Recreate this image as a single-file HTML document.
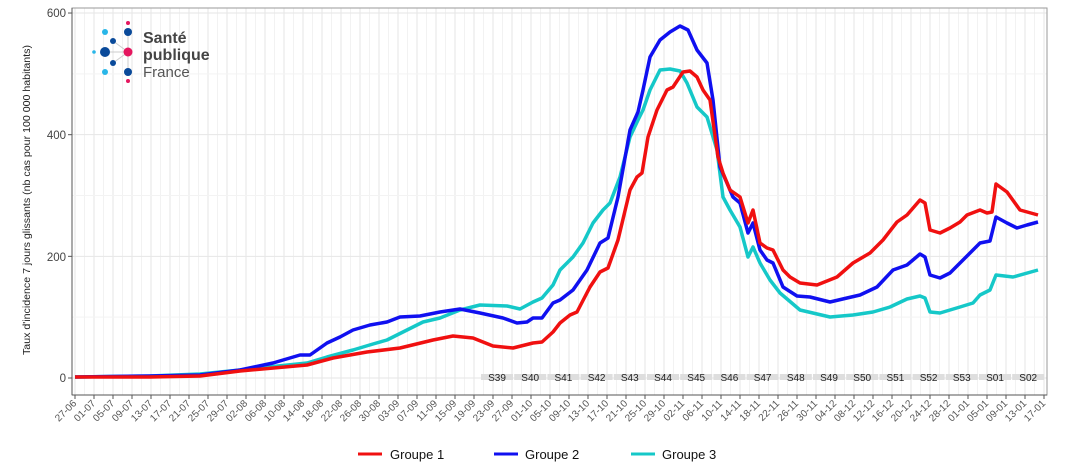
<!DOCTYPE html>
<html><head><meta charset="utf-8"><style>
body{margin:0;background:#fff;}
svg text{font-family:"Liberation Sans",sans-serif;}
</style></head><body>
<svg id="s" width="1070" height="468" xmlns="http://www.w3.org/2000/svg">
<rect width="1070" height="468" fill="#fff"/>
<g id="grid"></g>
<rect x="72" y="8" width="975" height="387" fill="none" stroke="#999" stroke-width="1"/>
<line x1="72" y1="8" x2="72" y2="395" stroke="#555" stroke-width="1"/>
<line x1="72" y1="395" x2="1047" y2="395" stroke="#555" stroke-width="1"/>
<g id="ylab" font-size="11.5" fill="#444" text-anchor="end">
<text x="66" y="17">600</text><text x="66" y="139">400</text><text x="66" y="261">200</text><text x="66" y="382">0</text>
</g>
<text transform="translate(30,200) rotate(-90)" font-size="10.5" fill="#222" text-anchor="middle" textLength="310" lengthAdjust="spacingAndGlyphs">Taux d'incidence 7 jours glissants (nb cas pour 100 000 habitants)</text>
<g id="slab"></g>
<g id="xlab"></g>
<g fill="none" stroke-width="3.5" stroke-linejoin="round">
<polyline stroke="#15c8c8" points="75,377 150,376 200,374 240,370 307,363 327,357 353,350 373,344 387,340 407,330 423,322 440,318 460,310 480,305 507,306 520,309 533,302 542,298 553,285 560,270 573,257 583,243 593,223 603,210 610,203 620,177 630,137 638,120 643,110 650,90 660,70 670,69 680,71 687,83 697,107 707,117 717,150 723,197 730,210 740,227 748,257 753,247 760,263 770,280 780,293 800,310 830,317 853,315 873,312 890,307 907,299 920,296 925,298 930,312 940,313 960,307 973,303 980,295 990,290 996,275 1013,277 1038,270"/>
<polyline stroke="#1010f0" points="75,377 150,376 200,375 240,370 273,363 300,355 310,355 327,343 340,337 353,330 370,325 387,322 400,317 420,316 440,312 460,309 480,313 503,318 517,323 527,322 533,318 542,318 553,303 560,300 573,290 587,270 600,243 608,238 618,197 630,130 638,112 643,90 650,57 660,40 670,32 680,26 688,30 697,50 707,63 713,100 720,167 727,183 733,197 740,203 748,233 753,223 760,250 767,260 773,263 783,287 797,296 810,297 830,302 847,298 860,295 877,287 893,270 907,265 920,254 925,257 930,275 940,278 950,273 960,263 970,253 980,243 990,241 996,217 1007,223 1017,228 1027,225 1038,222"/>
<polyline stroke="#f01010" points="75,377 150,377 200,376 240,371 307,365 333,358 367,352 400,348 433,340 453,336 473,338 493,346 513,348 533,343 542,342 553,332 560,323 570,315 577,312 590,287 600,272 608,268 618,240 630,190 637,177 642,173 648,137 657,110 667,90 673,87 683,72 690,71 697,77 703,90 710,100 718,157 723,173 730,190 740,197 748,223 753,210 760,243 767,248 773,250 783,270 790,277 800,283 817,285 837,277 853,263 870,253 883,240 897,222 907,215 920,200 925,203 930,230 940,233 950,228 960,222 967,215 980,210 987,213 992,212 996,184 1007,192 1020,210 1038,215"/>
</g>
<g id="logo">
<line x1="105" y1="52" x2="128" y2="52" stroke="#ccc"/><line x1="128" y1="32" x2="128" y2="74" stroke="#ccc"/>
<line x1="113" y1="41" x2="128" y2="52" stroke="#ccc"/><line x1="113" y1="63" x2="128" y2="52" stroke="#ccc"/>
<circle cx="128" cy="23" r="2" fill="#e5175f"/><circle cx="105" cy="32" r="3" fill="#29b6e8"/><circle cx="128" cy="32" r="4" fill="#0a4a9a"/>
<circle cx="113" cy="41" r="3" fill="#0a4a9a"/><circle cx="94" cy="52" r="1.8" fill="#29b6e8"/><circle cx="105" cy="52" r="5" fill="#0a4a9a"/>
<circle cx="128" cy="52" r="4.5" fill="#e5175f"/><circle cx="113" cy="63" r="3" fill="#0a4a9a"/><circle cx="105" cy="72" r="3" fill="#29b6e8"/>
<circle cx="128" cy="72" r="4" fill="#0a4a9a"/><circle cx="128" cy="81" r="2" fill="#e5175f"/>
<text x="143" y="43" font-size="16" font-weight="bold" fill="#444">Santé</text>
<text x="143" y="60" font-size="16" font-weight="bold" fill="#444">publique</text>
<text x="143" y="77" font-size="15" fill="#555">France</text>
</g>
<g font-size="13" fill="#111">
<line x1="358" y1="454" x2="382" y2="454" stroke="#f01010" stroke-width="3"/><text x="390" y="459">Groupe 1</text>
<line x1="494" y1="454" x2="518" y2="454" stroke="#1010f0" stroke-width="3"/><text x="525" y="459">Groupe 2</text>
<line x1="631" y1="454" x2="655" y2="454" stroke="#15c8c8" stroke-width="3"/><text x="662" y="459">Groupe 3</text>
</g>
</svg>
<script>
var NS="http://www.w3.org/2000/svg";
function el(p,t,a,txt){var e=document.createElementNS(NS,t);for(var k in a)e.setAttribute(k,a[k]);if(txt)e.textContent=txt;p.appendChild(e);return e;}
var g=document.getElementById('grid');
for(var d=0;d<=204;d+=2){var x=75+d*4.75;el(g,'line',{x1:x,y1:8,x2:x,y2:395,stroke:d%4==0?'#e6e6e6':'#f2f2f2','stroke-width':1});}
[0,100,200,300,400,500,600].forEach(function(v){var y=378-v*0.6083;el(g,'line',{x1:72,y1:y,x2:1047,y2:y,stroke:v%200==0?'#e6e6e6':'#f3f3f3','stroke-width':1});});
var yl=[0,200,400,600];yl.forEach(function(v){var y=378-v*0.6083;el(g,'line',{x1:68,y1:y,x2:72,y2:y,stroke:'#555'});});
var months=[["06",30],["07",31],["08",31],["09",30],["10",31],["11",30],["12",31],["01",31]];
var xl=document.getElementById('xlab');
var mi=0,day=27;
for(var i=0;i<=51;i++){var x=75+i*19;
 var lab=(day<10?"0":"")+day+"-"+months[mi][0];
 el(xl,'line',{x1:x,y1:395,x2:x,y2:399,stroke:'#555'});
 el(xl,'text',{x:x+2,y:404,'font-size':'10',fill:'#555','text-anchor':'end',transform:'rotate(-45 '+(x+2)+' 404)'},lab);
 day+=4;if(day>months[mi][1]){day-=months[mi][1];mi++;}
}
var s=document.getElementById('slab');
var names=["S39","S40","S41","S42","S43","S44","S45","S46","S47","S48","S49","S50","S51","S52","S53","S01","S02"];
names.forEach(function(n,i){var cx=497+i*33.2;
 el(s,'rect',{x:cx-16,y:374,width:32,height:6,fill:'#dedede'});
 el(s,'text',{x:cx,y:381,'font-size':'10',fill:'#222','text-anchor':'middle'},n);});
</script>
</body></html>
